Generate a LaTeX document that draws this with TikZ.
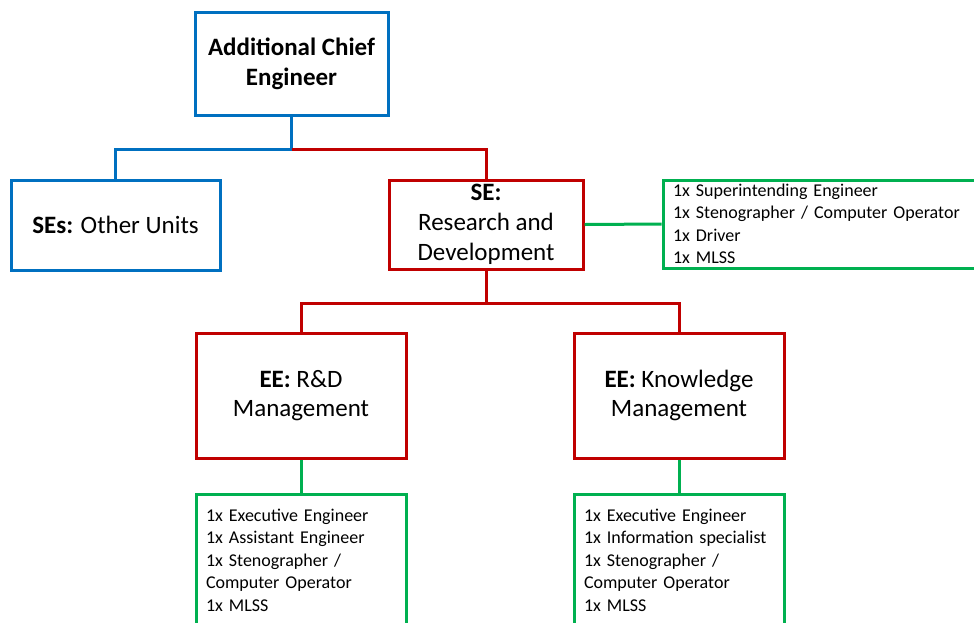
\documentclass[tikz,border=0pt]{standalone}
\usepackage{fontspec}
\setmainfont{Carlito}
\usetikzlibrary{positioning}
\definecolor{orgblue}{RGB}{0,112,192}
\definecolor{orgred}{RGB}{192,0,0}
\definecolor{orggreen}{RGB}{0,176,80}
\begin{document}
\begin{tikzpicture}[
			x=1pt,y=-1pt,
			unit/.style={draw,line width=3pt,inner sep=0pt,align=center,
					font=\fontsize{25}{29.7}\selectfont},
			staff/.style={draw=orggreen,line width=3pt,inner sep=0pt,align=left,
					font=\fontsize{18}{22.5}\selectfont},
			link/.style={line width=3pt}
		]
		\useasboundingbox (0,0) rectangle (974,622);
		\clip (0,0) rectangle (974,622);
		% top level
		\node[unit,draw=orgblue,minimum width=193pt,minimum height=103pt] (ace) at (291.5,63.5)
			{\textbf{Additional Chief}\\\textbf{Engineer}};
		\node[unit,draw=orgblue,minimum width=209pt,minimum height=90pt] (ses) at (115.5,225)
			{\textbf{SEs:} Other Units};
		\node[unit,draw=orgred,minimum width=194pt,minimum height=89pt] (se) at (486,224.5)
			{\textbf{SE:}\\Research and\\Development};
		\node[staff,minimum width=320pt,minimum height=88pt,text width=300pt] (sestaff) at (823,224)
			{1x Superintending Engineer\\1x Stenographer / Computer Operator\\1x Driver\\1x MLSS};
		% EE level
		\node[unit,draw=orgred,minimum width=210pt,minimum height=125pt] (eerd) at (301,395.5)
			{\textbf{EE:} R\&D\\Management};
		\node[unit,draw=orgred,minimum width=210pt,minimum height=125pt] (eekm) at (679,395.5)
			{\textbf{EE:} Knowledge\\Management};
		\node[staff,minimum width=210pt,minimum height=132pt,text width=190pt] (rdstaff) at (301,560)
			{1x Executive Engineer\\1x Assistant Engineer\\1x Stenographer /\\Computer Operator\\1x MLSS};
		\node[staff,minimum width=210pt,minimum height=132pt,text width=190pt] (kmstaff) at (679,560)
			{1x Executive Engineer\\1x Information specialist\\1x Stenographer /\\Computer Operator\\1x MLSS};
		% connectors
		\coordinate (acefork) at ([yshift=-33pt]ace.south);
		\coordinate (sefork) at ([yshift=-33pt]se.south);
		\draw[link,orgblue] (ace.south) -- (acefork) -| (ses.north);
		\draw[link,orgred] (acefork) -| (se.north);
		\draw[link,orggreen] (se.east) -- (sestaff.west);
		\draw[link,orgred] (se.south) -- (sefork) -| (eerd.north);
		\draw[link,orgred] (sefork) -| (eekm.north);
		\draw[link,orggreen] (eerd.south) -- (rdstaff.north);
		\draw[link,orggreen] (eekm.south) -- (kmstaff.north);
	\end{tikzpicture}
\end{document}
